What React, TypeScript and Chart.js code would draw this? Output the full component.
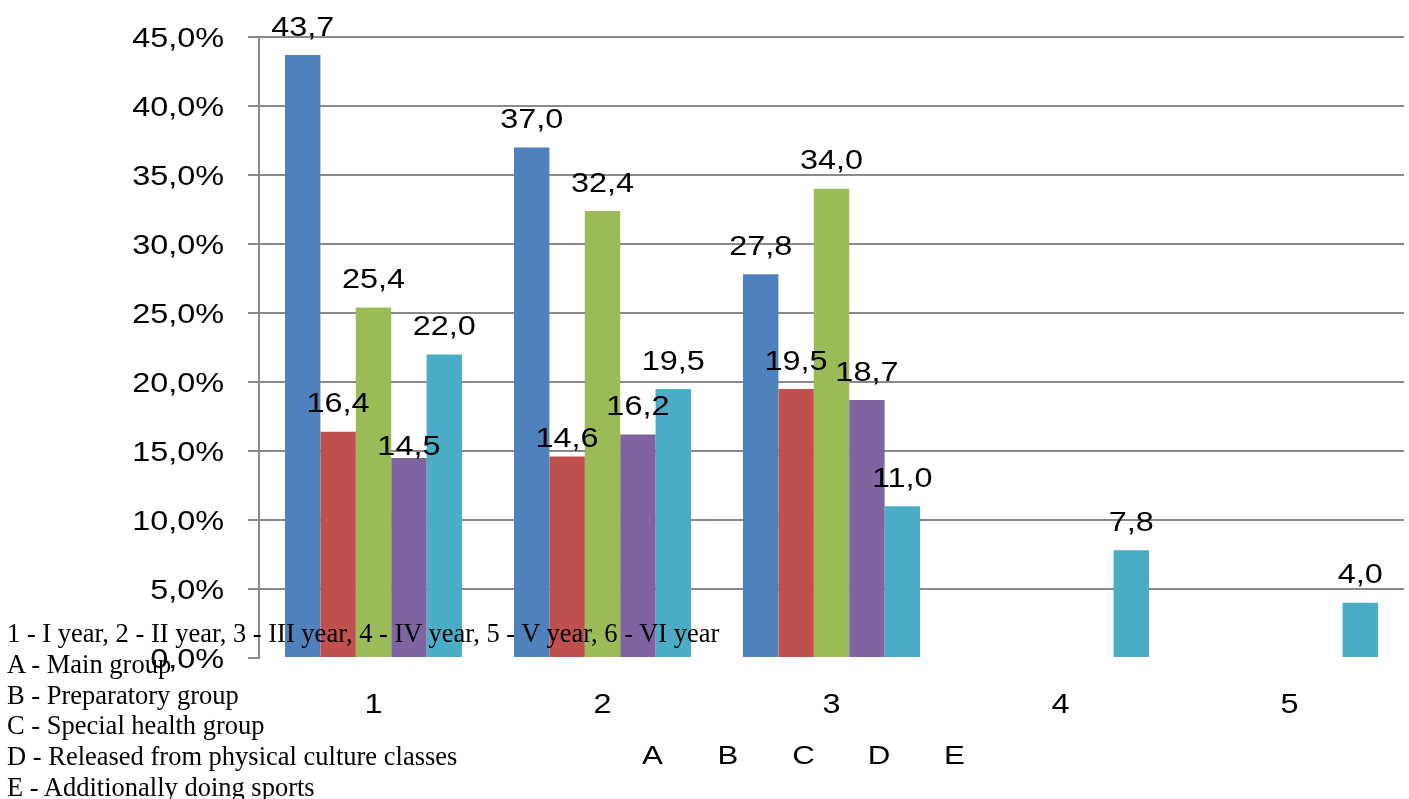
import { useEffect, useRef } from "react";
import { Chart, registerables } from "chart.js";

Chart.register(...registerables);

// Study years on the category axis
const categories = ["1", "2", "3", "4", "5"];

// Health groups (series), in percent of students
const seriesNames = ["A", "B", "C", "D", "E"];
const mainGroup = [43.7, 37.0, 27.8, null, null];
const preparatoryGroup = [16.4, 14.6, 19.5, null, null];
const specialHealthGroup = [25.4, 32.4, 34.0, null, null];
const releasedFromClasses = [14.5, 16.2, 18.7, null, null];
const doingSports = [22.0, 19.5, 11.0, 7.8, 4.0];

// Value axis range
const yMin = 0;
const yMax = 45;
const yStep = 5;

// Key printed under the chart
const notes = [
  "1 - I year, 2 - II year, 3 - III year, 4 - IV year, 5 - V year, 6 - VI year",
  "A - Main group",
  "B - Preparatory group",
  "C - Special health group",
  "D - Released from physical culture classes",
  "E - Additionally doing sports",
];

const seriesValues = [mainGroup, preparatoryGroup, specialHealthGroup, releasedFromClasses, doingSports];
const seriesColors = ["#4F81BD", "#C0504D", "#9BBB59", "#8064A2", "#4BACC6"];

const GRID = "#8a8a8a";
const SANS = '"Liberation Sans", Arial, sans-serif';
const STRETCH = 1.2; // chart text is set a little wide
const DIGIT_MID = 0.358; // distance from baseline to digit middle, in em

const fmtComma = (v: number) => v.toFixed(1).replace(".", ",");

function wideText(
  ctx: CanvasRenderingContext2D,
  text: string,
  x: number,
  midY: number,
  size: number,
  align: CanvasTextAlign
) {
  ctx.save();
  ctx.translate(x, midY + DIGIT_MID * size);
  ctx.scale(STRETCH, 1);
  ctx.font = `${size}px ${SANS}`;
  ctx.textAlign = align;
  ctx.textBaseline = "alphabetic";
  ctx.fillStyle = "#000";
  ctx.fillText(text, 0, 0);
  ctx.restore();
}

// Some value labels sit lower so they do not collide with neighbours
const labelRaise: Record<string, number> = { "3-0": 13, "1-1": 19 };

const textPlugin = {
  id: "chartText",
  afterDraw(chart: Chart) {
    const ctx = chart.ctx;
    const area = chart.chartArea;
    const y = chart.scales.y;
    const x = chart.scales.x;

    // value axis labels
    y.ticks.forEach((t, i) => {
      wideText(ctx, fmtComma(Number(t.value)) + "%", area.left - 35, y.getPixelForTick(i), 27, "right");
    });

    // category labels
    x.ticks.forEach((_t, i) => {
      wideText(ctx, categories[i], x.getPixelForTick(i), area.bottom + 45, 27, "center");
    });

    // value labels above the bars
    chart.data.datasets.forEach((ds, di) => {
      const meta = chart.getDatasetMeta(di);
      meta.data.forEach((bar: any, i) => {
        const v = ds.data[i] as number | null;
        if (v == null) return;
        const raise = labelRaise[`${di}-${i}`] ?? 29;
        wideText(ctx, fmtComma(v), bar.x, bar.y - raise, 27, "center");
      });
    });

    // series key letters
    const legendCenter = (area.left + area.right) / 2 - 28;
    seriesNames.forEach((name, i) => {
      wideText(ctx, name, legendCenter + (i - 2) * 75.5, area.bottom + 97, 26, "center");
    });
  },
};

export default function App() {
  const canvasRef = useRef<HTMLCanvasElement>(null);

  useEffect(() => {
    if (!canvasRef.current) return;
    const chart = new Chart(canvasRef.current, {
      type: "bar",
      data: {
        labels: categories,
        datasets: seriesNames.map((name, i) => ({
          label: name,
          data: seriesValues[i],
          backgroundColor: seriesColors[i],
          borderWidth: 0,
          categoryPercentage: 0.773,
          barPercentage: 1,
        })),
      },
      options: {
        animation: false,
        responsive: true,
        maintainAspectRatio: false,
        layout: { padding: { top: 37, right: 5, left: 0, bottom: 0 } },
        plugins: {
          legend: { display: false },
          tooltip: { enabled: false },
        },
        scales: {
          x: {
            grid: { display: false },
            border: { display: false },
            ticks: { display: false },
            afterFit: (scale: any) => {
              scale.height = 141;
            },
          },
          y: {
            min: yMin,
            max: yMax,
            ticks: { display: false, stepSize: yStep },
            grid: {
              color: (c: any) => (c.tick && c.tick.value === 0 ? "rgba(0,0,0,0)" : GRID),
              tickColor: GRID,
              lineWidth: 2,
              tickLength: 11,
              drawTicks: true,
            },
            border: { display: true, color: GRID, width: 2 },
            afterFit: (scale: any) => {
              scale.width = 259;
            },
          },
        },
      },
      plugins: [textPlugin],
    });
    return () => chart.destroy();
  }, []);

  return (
    <div
      style={{
        position: "fixed",
        left: 0,
        top: 0,
        width: 1409,
        height: 799,
        background: "#fff",
        overflow: "hidden",
      }}
    >
      <canvas ref={canvasRef} style={{ display: "block" }} />
      <div
        style={{
          position: "absolute",
          left: 7,
          top: 618,
          font: '26.5px "Liberation Serif", "Times New Roman", serif',
          lineHeight: "30.8px",
          color: "#000",
          whiteSpace: "nowrap",
          pointerEvents: "none",
        }}
      >
        {notes.map((line) => (
          <div key={line}>{line}</div>
        ))}
      </div>
    </div>
  );
}
